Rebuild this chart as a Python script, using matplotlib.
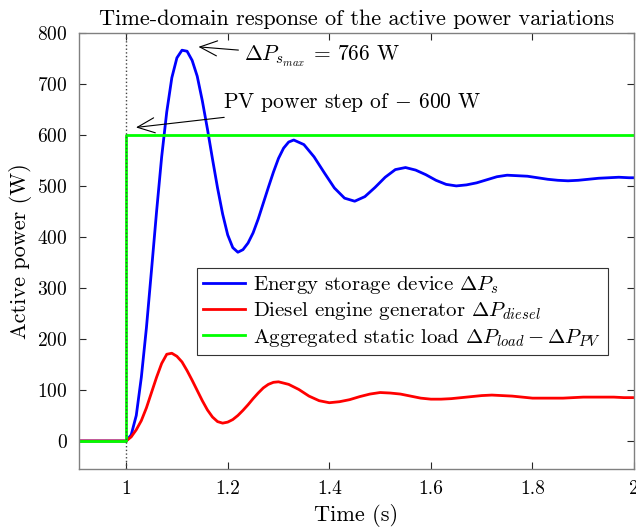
import matplotlib
matplotlib.use("Agg")
import matplotlib.pyplot as plt

plt.rcParams['font.family'] = 'serif'
plt.rcParams['font.serif'] = ['cmr10']
plt.rcParams['mathtext.fontset'] = 'cm'
plt.rcParams['axes.unicode_minus'] = False
plt.rcParams['axes.formatter.use_mathtext'] = True

# time axis for the fine part (step 0.01 s) and the coarse part (step 0.02 s)
t_pre = [0.9, 1.0]
t_fine = [1.00, 1.01, 1.02, 1.03, 1.04, 1.05, 1.06, 1.07, 1.08, 1.09,
          1.10, 1.11, 1.12, 1.13, 1.14, 1.15, 1.16, 1.17, 1.18, 1.19,
          1.20, 1.21, 1.22, 1.23, 1.24, 1.25, 1.26, 1.27, 1.28, 1.29,
          1.30, 1.31, 1.32, 1.33]
t_coarse = [1.35, 1.37, 1.39, 1.41, 1.43, 1.45, 1.47, 1.49, 1.51, 1.53,
            1.55, 1.57, 1.59, 1.61, 1.63, 1.65, 1.67, 1.69, 1.71, 1.73,
            1.75, 1.77, 1.79, 1.81, 1.83, 1.85, 1.87, 1.89, 1.91, 1.93,
            1.95, 1.97, 1.99, 2.00]

p_storage = [0, 0,
             0, 12, 50, 125, 222, 335, 450, 557, 645, 712,
             751, 766, 764, 746, 715, 667, 612, 553, 496, 445,
             404, 379, 370, 375, 388, 408, 435, 466, 497, 527,
             554, 574, 586, 590,
             581, 557, 526, 496, 476, 470, 479, 497, 517, 532,
             536, 531, 522, 511, 503, 500, 502, 506, 512, 518,
             521, 520, 519, 516, 513, 511, 510, 511, 513, 515,
             516, 517, 516, 516]

t_red_fine = [1.00, 1.01, 1.02, 1.03, 1.04, 1.05, 1.06, 1.07, 1.08, 1.09,
              1.10, 1.11, 1.12, 1.13, 1.14, 1.15, 1.16, 1.17, 1.18, 1.19,
              1.20, 1.21, 1.22, 1.23, 1.24, 1.25, 1.26, 1.27, 1.28, 1.29,
              1.30]
t_red_coarse = [1.32, 1.34, 1.36, 1.38, 1.40, 1.42, 1.44, 1.46, 1.48, 1.50,
                1.52, 1.54, 1.56, 1.58, 1.60, 1.62, 1.64, 1.66, 1.68, 1.70,
                1.72, 1.74, 1.76, 1.78, 1.80, 1.82, 1.84, 1.86, 1.88, 1.90,
                1.92, 1.94, 1.96, 1.98, 2.00]
p_diesel = [0, 0,
            0, 8, 22, 40, 65, 95, 125, 152, 170, 172,
            166, 155, 138, 119, 99, 79, 61, 47, 38, 35,
            37, 42, 50, 60, 71, 83, 94, 104, 111, 115,
            116,
            111, 101, 88, 79, 75, 77, 81, 87, 92, 95,
            94, 92, 88, 84, 82, 82, 83, 85, 87, 89,
            90, 89, 88, 86, 84, 84, 84, 84, 85, 86,
            86, 86, 86, 85, 85]

t_step = [0.9, 1.0, 1.0, 2.0]
p_load = [0, 0, 600, 600]

t_blue = t_pre + t_fine + t_coarse
t_red = t_pre + t_red_fine + t_red_coarse

fig = plt.figure(figsize=(6.36, 5.3), dpi=100)
ax = fig.add_axes([0.124, 0.115, 0.873, 0.823])

ax.plot(t_blue, p_storage, color='#0000ff', lw=2, solid_joinstyle='round',
        label=r'Energy storage device $\Delta P_s$')
ax.plot(t_red, p_diesel, color='#ff0000', lw=2, solid_joinstyle='round',
        label=r'Diesel engine generator $\Delta P_{diesel}$')
ax.plot(t_step, p_load, color='#00ff00', lw=2,
        label=r'Aggregated static load $\Delta P_{load} - \Delta P_{PV}$')
ax.axvline(1.0, color='#444444', ls=':', lw=1)

ax.set_xlim(0.907, 2.0)
ax.set_ylim(-55, 800)
ax.set_xticks([1, 1.2, 1.4, 1.6, 1.8, 2])
ax.set_xticklabels(['1', '1.2', '1.4', '1.6', '1.8', '2'])
ax.set_yticks(range(0, 801, 100))

ax.tick_params(direction='in', top=True, right=True, labelsize=14,
               length=5, color='#262626', pad=8)
for s in ax.spines.values():
    s.set_color('#808080')
    s.set_linewidth(1)

ax.set_title('Time-domain response of the active power variations',
             fontsize=16, pad=6)
ax.set_xlabel('Time (s)', fontsize=16, labelpad=4)
ax.set_ylabel('Active power (W)', fontsize=16, labelpad=4)

ax.annotate(r'$\Delta P_{s_{max}}$ = 766 W', xy=(1.137, 773), xytext=(1.232, 753),
            fontsize=15.5, va='center',
            arrowprops=dict(arrowstyle='->,head_length=0.8,head_width=0.35',
                            color='black', lw=0.8))
ax.annotate(r'PV power step of $-$ 600 W', xy=(1.014, 614), xytext=(1.19, 663),
            fontsize=15.5, va='center',
            arrowprops=dict(arrowstyle='->,head_length=0.8,head_width=0.35',
                            color='black', lw=0.8))

leg = ax.legend(loc='upper left', bbox_to_anchor=(0.213, 0.461), fontsize=15,
                fancybox=False, framealpha=1, edgecolor='#333333',
                handlelength=2.0, borderpad=0.3, labelspacing=0.2,
                handletextpad=0.4, borderaxespad=0)
leg.get_frame().set_linewidth(0.8)

fig.savefig('out.png', dpi=100)
